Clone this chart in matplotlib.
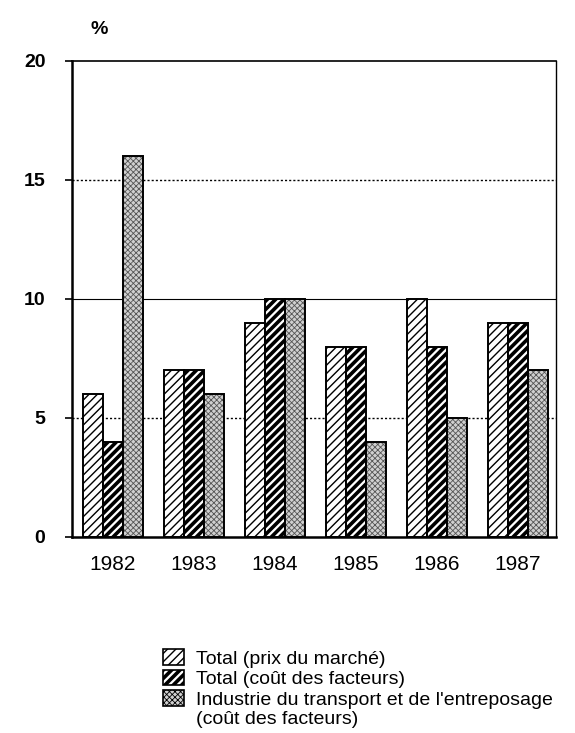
import matplotlib
matplotlib.use('Agg')
import matplotlib.pyplot as plt
import numpy as np

plt.rcParams['font.family'] = ['Liberation Sans', 'DejaVu Sans']

years = ['1982', '1983', '1984', '1985', '1986', '1987']
total_marche = [6, 7, 9, 8, 10, 9]
total_facteurs = [4, 7, 10, 8, 8, 9]
transport = [16, 6, 10, 4, 5, 7]
labels = ['Total (prix du marché)',
          'Total (coût des facteurs)',
          "Industrie du transport et de l'entreposage"]
label_extra = '(coût des facteurs)'

fig = plt.figure(figsize=(5.75, 7.33), dpi=100)
ax = fig.add_axes([0.125, 0.2674, 0.842, 0.6494])

x = np.arange(len(years))
w = 0.247

styles = [('////', 'white', 'black', 1.0),
          ('////', 'white', 'black', 2.6),
          ('xxxxxx', '#d0d0d0', '#555555', 0.6)]

def style_patch(p, st):
    hatch, face, hcolor, hlw = st
    p.set_hatch(hatch)
    p.set_hatch_linewidth(hlw)
    p._hatch_color = matplotlib.colors.to_rgba(hcolor)

bars = []
for vals, off, st in zip([total_marche, total_facteurs, transport], [-w, 0, w], styles):
    bs = ax.bar(x + off, vals, w, facecolor=st[1], edgecolor='black',
                linewidth=1.4, zorder=3)
    for b in bs:
        style_patch(b, st)
    bars.append(bs)

ax.set_xlim(-0.506, 5.47)
ax.set_ylim(0, 20)
ax.set_yticks([0, 5, 10, 15, 20])
ax.set_xticks(x)
ax.set_xticklabels(years)
ax.tick_params(axis='x', length=0, pad=13, labelsize=15)
ax.tick_params(axis='y', length=5, width=1.2, direction='out', pad=14, labelsize=14)
for lab in ax.get_yticklabels():
    lab.set_fontweight('bold')

ax.axhline(5, color='black', linestyle=(0, (1.5, 1.5)), linewidth=1, zorder=1)
ax.axhline(15, color='black', linestyle=(0, (1.5, 1.5)), linewidth=1, zorder=1)
ax.axhline(10, color='black', linewidth=0.8, zorder=1)

for s in ['left', 'bottom']:
    ax.spines[s].set_linewidth(1.8)
ax.spines['top'].set_linewidth(1.2)
ax.spines['right'].set_linewidth(1.0)

fig.text(0.157, 0.96, '%', fontsize=14, fontweight='bold', ha='left', va='center')

leg = fig.legend([b[0] for b in bars], labels, loc='upper left',
                 bbox_to_anchor=(0.283, 0.114), frameon=False,
                 fontsize=14, handlelength=1.1, handleheight=0.85,
                 handletextpad=0.6, labelspacing=0.1, borderaxespad=0,
                 borderpad=0)
for p, st in zip(leg.get_patches(), styles):
    style_patch(p, st)
    p.set_edgecolor('black')
    p.set_linewidth(1.2)

# second line of the third legend entry
fig.canvas.draw()
bb = leg.get_texts()[2].get_window_extent().transformed(fig.transFigure.inverted())
fig.text(bb.x0, bb.y0 - 0.003, label_extra, fontsize=14, ha='left', va='top')

fig.savefig('out.png', dpi=100)
